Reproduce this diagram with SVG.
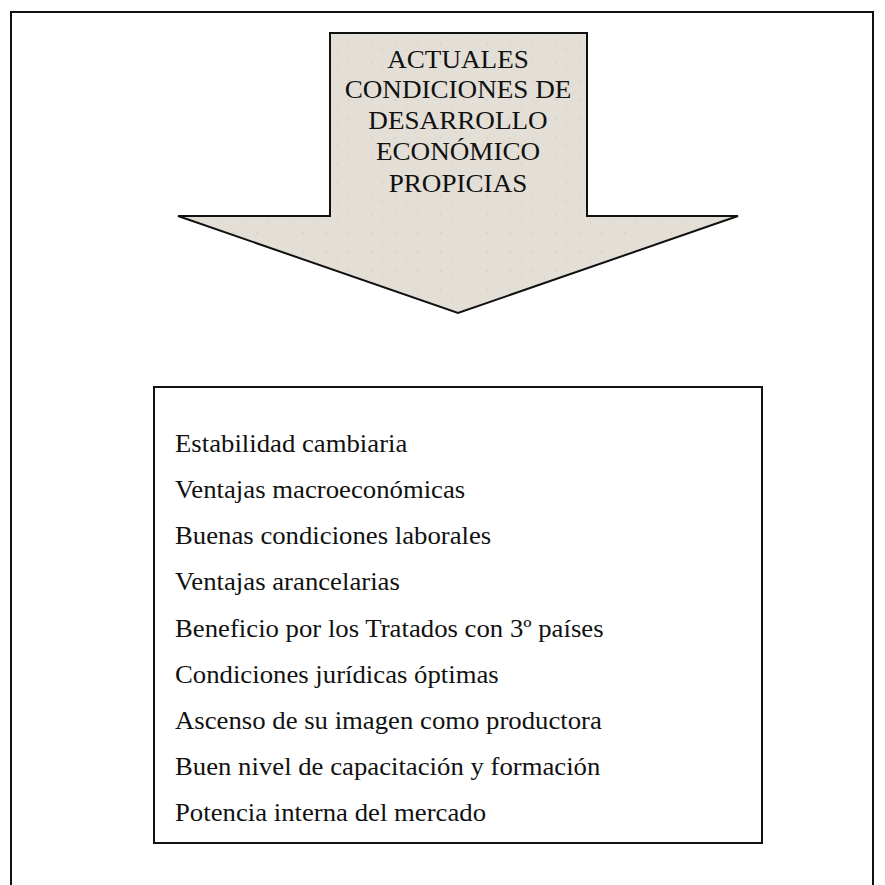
<svg xmlns="http://www.w3.org/2000/svg" width="885" height="885" viewBox="0 0 885 885">
<style>
.frame{fill:none;stroke:#111;stroke-width:2}
.t{font-family:"Liberation Serif","Times New Roman",serif;font-size:25px;fill:#111}
.c{text-anchor:middle}
</style>
<defs>
<pattern id="tex" width="23" height="19" patternUnits="userSpaceOnUse">
<rect width="23" height="19" fill="#e4dfd6"/>
<circle cx="4" cy="5" r="0.8" fill="#cfc8bc"/>
<circle cx="15" cy="12" r="0.7" fill="#d3ccc0"/>
<circle cx="9" cy="16" r="0.6" fill="#f0ece6"/>
<circle cx="19" cy="3" r="0.6" fill="#efebe4"/>
</pattern>
</defs>
<rect width="885" height="885" fill="#fff"/>
<path class="frame" d="M11,900 V12 H873 V900"/>
<g id="arrow">
<polygon points="330,33 587,33 587,216 738,216 458,313 178,216 330,216" fill="url(#tex)" stroke="#111" stroke-width="2" stroke-linejoin="miter"/>
<g transform="translate(458,0) scale(1.085,1)">
<text class="t c" x="0" y="68">ACTUALES</text>
<text class="t c" x="0" y="98.5">CONDICIONES DE</text>
<text class="t c" x="0" y="129.5">DESARROLLO</text>
<text class="t c" x="0" y="160">ECONÓMICO</text>
<text class="t c" x="0" y="192">PROPICIAS</text>
</g>
</g>
<g id="list">
<rect x="154" y="387" width="608" height="456" fill="#fff" stroke="#111" stroke-width="2"/>
<g transform="translate(175,0) scale(1.07,1)">
<text class="t" x="0" y="452">Estabilidad cambiaria</text>
<text class="t" x="0" y="498">Ventajas macroeconómicas</text>
<text class="t" x="0" y="544.5">Buenas condiciones laborales</text>
<text class="t" x="0" y="590.5">Ventajas arancelarias</text>
<text class="t" x="0" y="637">Beneficio por los Tratados con 3º países</text>
<text class="t" x="0" y="683">Condiciones jurídicas óptimas</text>
<text class="t" x="0" y="729">Ascenso de su imagen como productora</text>
<text class="t" x="0" y="775.5">Buen nivel de capacitación y formación</text>
<text class="t" x="0" y="821.5">Potencia interna del mercado</text>
</g>
</g>
<g id="connectors"></g>
</svg>
